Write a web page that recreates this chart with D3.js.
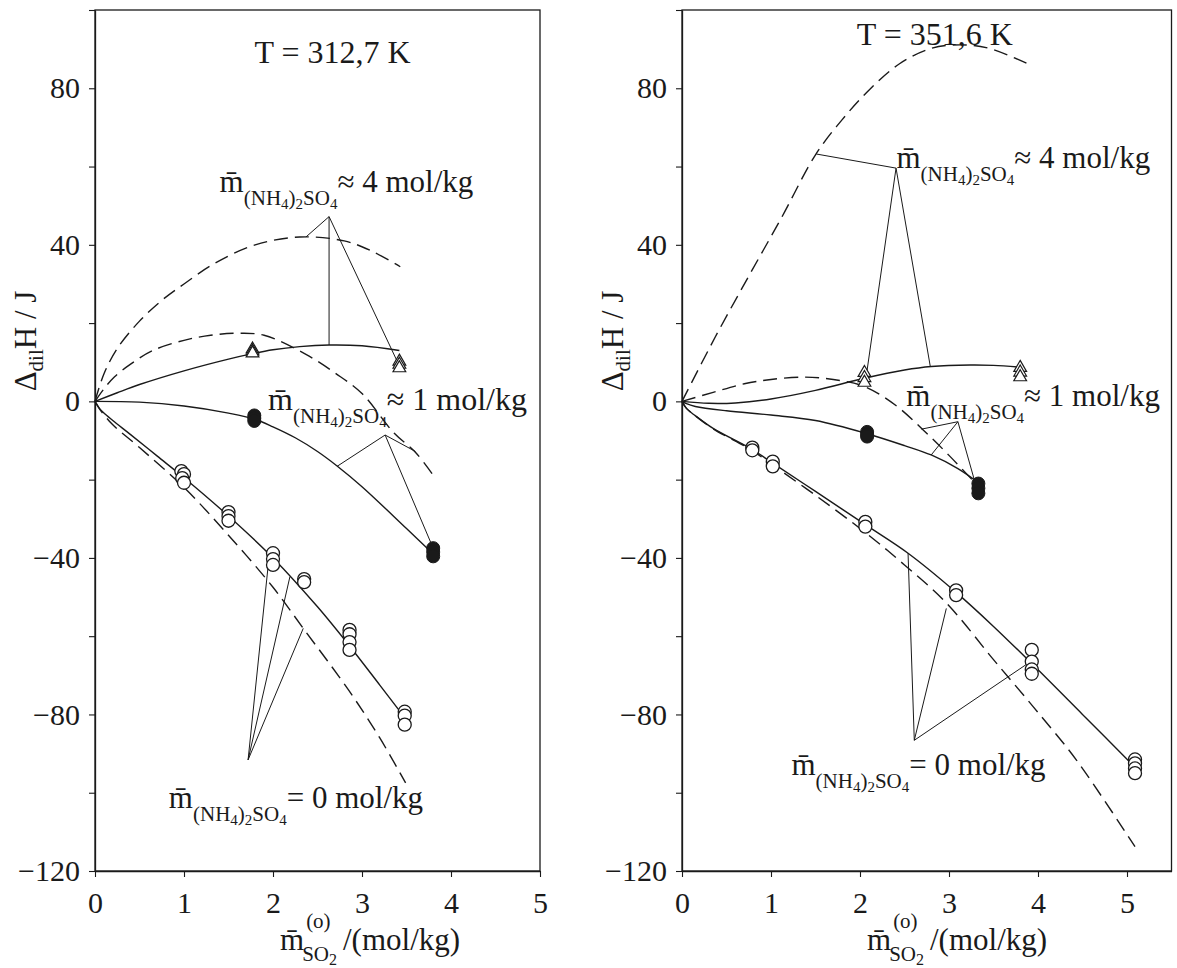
<!DOCTYPE html>
<html>
<head>
<meta charset="utf-8">
<script src="https://cdn.jsdelivr.net/npm/d3@7"></script>
<style>
  body { margin: 0; background: #fff; }
</style>
</head>
<body>
<svg id="chart" width="1177" height="968"></svg>
<script>
// ---- data: T = 312,7 K (left) ----
const circ0L = [[0.97,-17.8],[1.0,-18.6],[0.98,-19.6],[1.0,-20.8],[1.5,-28.3],[1.5,-29.3],[1.5,-30.5],
  [2.0,-38.8],[2.0,-40.3],[2.0,-41.8],[2.35,-45.4],[2.35,-46.2],
  [2.86,-58.4],[2.86,-59.5],[2.86,-61.5],[2.86,-63.5],[3.48,-79.3],[3.48,-80.3],[3.48,-82.6]];
const fill1L = [[1.79,-3.6],[1.79,-4.3],[1.79,-5.0],[3.8,-37.5],[3.8,-38.5],[3.8,-39.6]];
const tri4L = [[1.77,13.3],[1.77,12.8],[1.77,12.3],[3.42,10.2],[3.42,9.4],[3.42,8.5]];

const fit0L = [[0,0],[0.05,-1.8],[0.1,-3.0],[0.2,-4.9],[0.4,-8.5],[0.7,-14],[1.0,-19.5],[1.5,-29.3],
  [2.0,-40.0],[2.5,-52.5],[2.86,-62.5],[3.2,-72.5],[3.48,-80.8]];
const pred0L = [[0,0],[0.05,-1.9],[0.1,-3.4],[0.2,-6.0],[0.5,-11.8],[1.0,-22],[1.48,-33.7],[2.0,-47.5],
  [2.34,-58],[2.85,-73.8],[3.2,-86],[3.49,-97.5]];
const fit1L = [[0,0],[0.5,-0.2],[1.0,-1.2],[1.5,-3.0],[1.79,-4.5],[2.0,-6.5],[2.25,-9.3],[2.5,-12.8],
  [2.72,-16.5],[3.0,-21.8],[3.5,-32.5],[3.8,-39]];
const pred1L = [[0,0],[0.1,3.2],[0.22,6.3],[0.4,9.5],[0.65,13],[1.0,15.6],[1.3,16.9],[1.6,17.4],[1.9,16.9],
  [2.37,12],[2.7,7.2],[3.0,2.0],[3.36,-8.1],[3.6,-13],[3.81,-19.2]];
const fit4L = [[0,0],[0.25,2.2],[0.5,4.3],[1.0,7.8],[1.5,10.8],[1.77,12.2],[2.0,13.2],[2.3,14.0],
  [2.63,14.4],[3.0,14.2],[3.42,13.0]];
const pred4L = [[0,0],[0.1,7],[0.25,13.5],[0.5,20.5],[0.75,25.8],[1.0,30],[1.34,35.2],[1.8,40],[2.3,42],
  [2.8,41],[3.1,38.5],[3.43,34.4]];

// leader lines: apex first, then end points
const lead4L = [[2.63,47.2],[2.37,42.0],[2.63,14.4],[3.39,10.5]];
const lead1L = [[3.26,-8.6],[2.72,-16.6],[3.6,-12.8],[3.79,-37]];
const lead0L = [[1.72,-91.6],[1.95,-41],[2.19,-44.8],[2.34,-58]];

// ---- data: T = 351,6 K (right) ----
const circ0R = [[0.79,-11.8],[0.79,-12.5],[1.02,-15.4],[1.02,-16.6],[2.06,-30.8],[2.06,-32.0],
  [3.08,-48.3],[3.08,-49.5],[3.93,-63.5],[3.93,-66.5],[3.93,-68.5],[3.93,-69.6],
  [5.09,-91.5],[5.09,-92.5],[5.09,-93.8],[5.09,-95.0]];
const fill1R = [[2.08,-7.8],[2.08,-8.5],[2.08,-9.0],[3.33,-21.0],[3.33,-22.2],[3.33,-23.5]];
const tri4R = [[2.05,7.3],[2.05,6.0],[2.05,4.8],[3.8,8.6],[3.8,7.4],[3.8,6.2]];

const fit0R = [[0,0],[0.05,-1.8],[0.14,-3.5],[0.35,-6.9],[0.79,-12.3],[1.02,-15.8],[1.5,-23],[2.06,-31.5],
  [2.54,-38.8],[3.08,-48.8],[3.5,-57.5],[3.93,-67],[4.5,-80],[5.09,-93.5]];
const pred0R = [[0,0],[0.05,-1.8],[0.14,-3.5],[0.35,-7.0],[0.79,-12.6],[1.02,-16.3],[1.5,-24],[2.07,-33.7],
  [2.5,-41.8],[2.97,-51.5],[3.5,-66],[3.66,-70.3],[4.0,-79.5],[4.43,-91.6],[5.09,-113.8]];
const fit1R = [[0,0],[0.05,-0.6],[0.15,-1.3],[0.5,-2.4],[1.0,-3.5],[1.5,-4.9],[2.07,-8.2],[2.5,-11.3],
  [2.8,-13.7],[3.1,-17.2],[3.33,-20.8]];
const pred1R = [[0,0],[0.35,2.3],[0.7,4.5],[1.0,5.6],[1.38,6.2],[1.7,5.6],[2.05,3.8],[2.4,-1.0],
  [2.71,-7.3],[3.0,-13.8],[3.3,-21.0]];
const fit4R = [[0,0],[0.3,-0.5],[0.6,-0.4],[1.0,0.6],[1.5,2.8],[2.05,5.9],[2.5,8.0],[2.8,8.9],
  [3.24,9.3],[3.5,9.2],[3.81,8.7]];
const pred4R = [[0,0],[0.375,16.5],[0.75,32],[1.12,47],[1.5,63],[1.8,72],[2.1,79.5],[2.44,86.2],
  [2.8,90.2],[3.13,91.1],[3.45,90.2],[3.87,86.4]];

const lead4R = [[2.405,59.6],[1.51,63.2],[2.08,8.0],[2.79,8.9]];
const lead1R = [[3.1,-5.2],[2.69,-7.1],[2.8,-13.7],[3.29,-20.5]];
const lead0R = [[2.61,-86.6],[2.54,-38.8],[2.97,-52.9],[3.89,-66.9]];

// ticks
const yTicks = d3.range(-120, 101, 20);
const yTickLabels = [-120, -80, -40, 0, 40, 80];
const xTicks = [0, 1, 2, 3, 4, 5];

const svg = d3.select('#chart');
const ink = '#1a1a1a';
const serif = 'Liberation Serif';
const y = d3.scaleLinear().domain([-120, 100]).range([871, 10]);
const fmt = d3.format('d');

function txt(g, px, py, size) {
  return g.append('text').attr('x', px).attr('y', py)
    .attr('font-family', serif).attr('font-size', size).attr('fill', ink);
}

function molLabel(g, px, py, rel, val, big) {
  const t = txt(g, px, py, big || 31);
  t.append('tspan').text('m\u0304');
  t.append('tspan').attr('font-size', 21).attr('dy', 13).text('(NH');
  t.append('tspan').attr('font-size', 15).attr('dy', 4).text('4');
  t.append('tspan').attr('font-size', 21).attr('dy', -4).text(')');
  t.append('tspan').attr('font-size', 15).attr('dy', 4).text('2');
  t.append('tspan').attr('font-size', 21).attr('dy', -4).text('SO');
  t.append('tspan').attr('font-size', 15).attr('dy', 4).text('4');
  t.append('tspan').attr('dy', -17).text(rel + ' ' + val + ' mol/kg');
}

function xLabel(g, px, py) {
  const m = txt(g, px, py, 31).text('m\u0304');
  const w = m.node().getComputedTextLength();
  const sup = txt(g, px + w + 2, py - 22, 21).text('(o)');
  const sub = txt(g, px + w - 2, py + 11, 21);
  sub.append('tspan').text('SO');
  sub.append('tspan').attr('font-size', 16).attr('dy', 4).text('2');
  const w2 = Math.max(sup.node().getComputedTextLength() + 4, sub.node().getComputedTextLength());
  txt(g, px + w + w2 + 4, py, 31).text('/(mol/kg)');
}

function yLabel(g, px, py) {
  const t = txt(g, 0, 0, 31).attr('transform', `translate(${px},${py}) rotate(-90)`)
    .attr('text-anchor', 'middle');
  t.append('tspan').text('\u0394');
  t.append('tspan').attr('font-size', 21).attr('dy', 7).text('dil');
  t.append('tspan').attr('dy', -7).text('H / J');
}

function drawPanel(p) {
  const g = svg.append('g');
  const x = d3.scaleLinear().domain(p.xDomain).range(p.xRange);
  const line = d3.line().x(d => x(d[0])).y(d => y(d[1])).curve(d3.curveCatmullRom.alpha(0.5));

  // frame
  g.append('rect')
    .attr('x', p.xRange[0]).attr('y', y(100))
    .attr('width', p.xRange[1] - p.xRange[0]).attr('height', y(-120) - y(100))
    .attr('fill', 'none').attr('stroke', ink).attr('stroke-width', 1.3);

  // axes
  const ya = g.append('g').attr('transform', `translate(${p.xRange[0]},0)`)
    .call(d3.axisLeft(y).tickValues(yTicks).tickSize(6).tickSizeOuter(0).tickPadding(9)
      .tickFormat(d => yTickLabels.includes(d) ? fmt(d) : ''));
  const xa = g.append('g').attr('transform', `translate(0,${y(-120)})`)
    .call(d3.axisBottom(x).tickValues(xTicks).tickSize(6).tickSizeOuter(0).tickPadding(15)
      .tickFormat(fmt));
  [ya, xa].forEach(a => {
    a.select('.domain').attr('stroke', ink).attr('stroke-width', 1.3);
    a.selectAll('.tick line').attr('stroke', ink).attr('stroke-width', 1.1);
    a.selectAll('.tick text').attr('fill', ink)
      .attr('font-family', serif).attr('font-size', 30);
  });

  // curves
  p.solid.forEach(c => g.append('path').datum(c).attr('d', line)
    .attr('fill', 'none').attr('stroke', ink).attr('stroke-width', 1.4));
  p.dashed.forEach(c => g.append('path').datum(c).attr('d', line)
    .attr('fill', 'none').attr('stroke', ink).attr('stroke-width', 1.4).attr('stroke-dasharray', '14,7'));

  // leader lines
  p.leads.forEach(l => {
    l.slice(1).forEach(e => g.append('line')
      .attr('x1', x(l[0][0])).attr('y1', y(l[0][1]))
      .attr('x2', x(e[0])).attr('y2', y(e[1]))
      .attr('stroke', ink).attr('stroke-width', 1));
  });

  // markers
  g.selectAll('.circ').data(p.circ).join('circle')
    .attr('cx', d => x(d[0])).attr('cy', d => y(d[1])).attr('r', 6.5)
    .attr('fill', '#fff').attr('stroke', ink).attr('stroke-width', 1.3);
  g.selectAll('.fill').data(p.fill).join('circle')
    .attr('cx', d => x(d[0])).attr('cy', d => y(d[1])).attr('r', 6.5)
    .attr('fill', ink).attr('stroke', ink).attr('stroke-width', 1);
  const tri = d3.symbol().type(d3.symbolTriangle).size(70);
  g.selectAll('.tri').data(p.tri).join('path')
    .attr('transform', d => `translate(${x(d[0])},${y(d[1])})`)
    .attr('d', tri).attr('fill', '#fff').attr('stroke', ink).attr('stroke-width', 1.2);

  // texts
  txt(g, x(p.title[1]), y(p.title[2]), 32).attr('text-anchor', 'middle').text(p.title[0]);
  p.labels.forEach(l => molLabel(g, x(l[0]), y(l[1]), l[2], l[3], l[4]));
  xLabel(g, p.xRange[0] + 185, 950);
  yLabel(g, p.xRange[0] - 59, 341);
}

drawPanel({
  xDomain: [0, 5], xRange: [95, 540],
  solid: [fit0L, fit1L, fit4L], dashed: [pred0L, pred1L, pred4L],
  leads: [lead4L, lead1L, lead0L],
  circ: circ0L, fill: fill1L, tri: tri4L,
  title: ['T = 312,7 K', 2.67, 86.5],
  labels: [[1.40, 53.5, '\u2248', 4], [1.945, -2.2, '\u2248', 1, 32], [0.83, -103.9, '=', 0]]
});
drawPanel({
  xDomain: [0, 5.5], xRange: [682, 682 + 89 * 5.5],
  solid: [fit0R, fit1R, fit4R], dashed: [pred0R, pred1R, pred4R],
  leads: [lead4R, lead1R, lead0R],
  circ: circ0R, fill: fill1R, tri: tri4R,
  title: ['T = 351,6 K', 2.84, 91.1],
  labels: [[2.41, 59.6, '\u2248', 4], [2.52, -1.2, '\u2248', 1], [1.23, -95.5, '=', 0]]
});
</script>
</body>
</html>
